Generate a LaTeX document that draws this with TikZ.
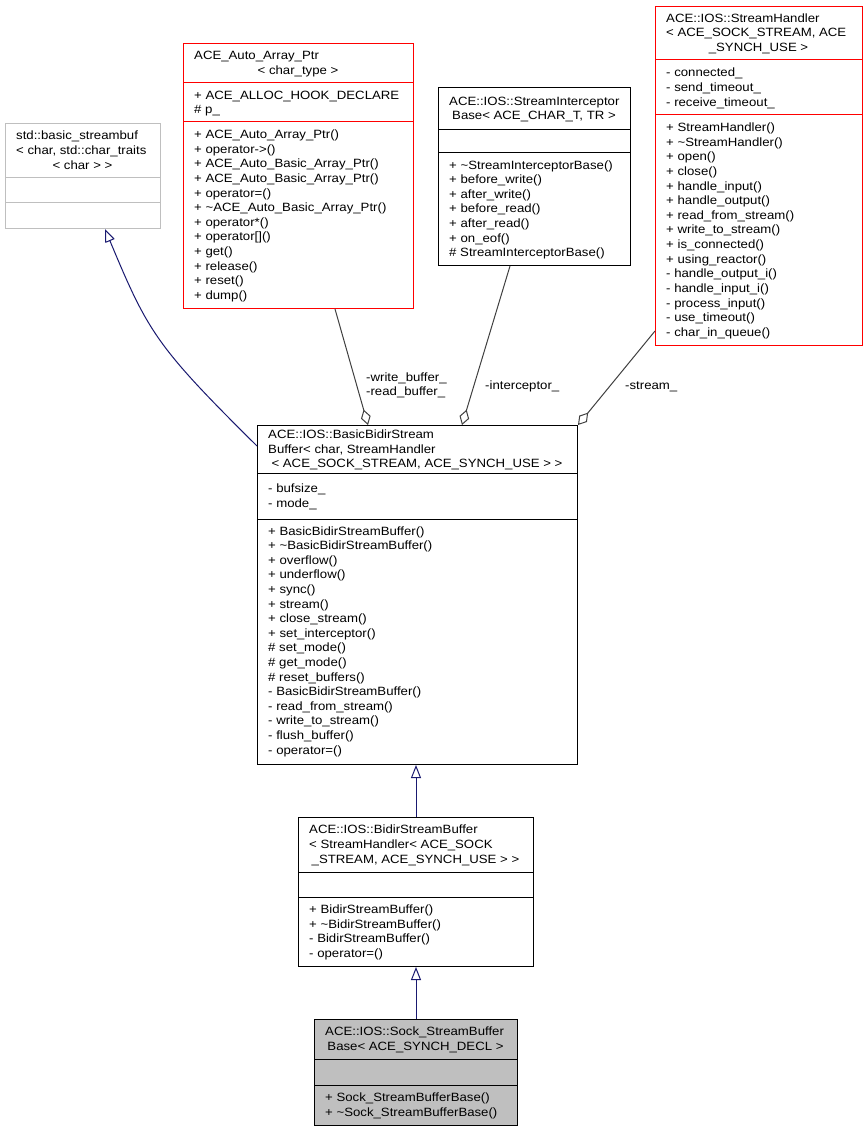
\documentclass[tikz,border=0pt]{standalone}
\usepackage{fontspec}
\setmainfont{Liberation Sans}[FakeStretch=1.1]
\usetikzlibrary{arrows.meta,calc}
\definecolor{edgeblue}{HTML}{191970}
\definecolor{agggray}{HTML}{404040}
\definecolor{boxred}{HTML}{FF0000}
\definecolor{boxgray}{HTML}{BFBFBF}
\definecolor{sockfill}{HTML}{BFBFBF}
\newcommand{\mlines}[4]{\foreach \lbl [count=\i] in {#4} {\node[txt, anchor=base west] (#1-\i) at (#2, {#3+(\i-1)*14.6+4}) {\lbl};}}
\begin{document}
\begin{tikzpicture}[x=1pt,y=-1pt,
  box/.style={draw, line width=1pt, inner sep=0pt, anchor=north west},
  txt/.style={inner sep=0pt, font=\fontsize{12}{14.6}\selectfont},
  inh/.style={draw=edgeblue, line width=1pt, arrows={-Triangle[open,length=13pt,width=10pt]}},
  agg/.style={draw=agggray, line width=1pt, arrows={Diamond[open,length=16pt,width=10pt]-}},
  sepl/.style={line width=1pt}]
\fill[white] (0,0) rectangle (867,1131);
\useasboundingbox (0,0) rectangle (867,1131);

% ---- boxes ----
\node[box, draw=boxgray, minimum width=155pt, minimum height=105pt] (basic) at (5,123) {};
\node[box, draw=boxred, minimum width=230pt, minimum height=265pt] (auto) at (183,43) {};
\node[box, draw=black, minimum width=192pt, minimum height=178pt] (interc) at (438,87) {};
\node[box, draw=boxred, minimum width=207pt, minimum height=339pt] (sh) at (655,6) {};
\node[box, draw=black, minimum width=320pt, minimum height=339pt] (bb) at (257,425) {};
\node[box, draw=black, minimum width=235pt, minimum height=149pt] (bidir) at (298,817) {};
\node[box, draw=black, fill=sockfill, minimum width=203pt, minimum height=106pt] (sock) at (314,1019) {};

% ---- separators ----
\draw[sepl, boxgray] (5,178) -- (160,178) (5,203) -- (160,203);
\draw[sepl, boxred] (183,83) -- (413,83) (183,122) -- (413,122);
\draw[sepl] (438,130) -- (630,130) (438,153) -- (630,153);
\draw[sepl, boxred] (655,60) -- (862,60) (655,115) -- (862,115);
\draw[sepl] (257,473) -- (577,473) (257,519) -- (577,519);
\draw[sepl] (298,872) -- (533,872) (298,897) -- (533,897);
\draw[sepl] (314,1059) -- (517,1059) (314,1085) -- (517,1085);

% ---- texts ----
% std::basic_streambuf
\mlines{basic-t}{16}{136}{std::basic\_streambuf, {< char, std::char\_traits}}
\node[txt, anchor=base] (basic-tc) at (82.5,169.2) {< char > >};

% ACE_Auto_Array_Ptr
\mlines{auto-t}{194}{55.7}{ACE\_Auto\_Array\_Ptr}
\node[txt, anchor=base] (auto-tc) at (298,74.3) {< char\_type >};
\mlines{auto-a}{194}{95.2}{+ ACE\_ALLOC\_HOOK\_DECLARE, \# p\_}
\mlines{auto-m}{194}{134.7}{+ ACE\_Auto\_Array\_Ptr(), + operator->(), + ACE\_Auto\_Basic\_Array\_Ptr(), + ACE\_Auto\_Basic\_Array\_Ptr(), + operator=(), + \textasciitilde ACE\_Auto\_Basic\_Array\_Ptr(), + operator*(), {+ operator[]()}, + get(), + release(), + reset(), + dump()}

% StreamInterceptorBase
\mlines{interc-t}{449}{101.2}{ACE::IOS::StreamInterceptor}
\node[txt, anchor=base] (interc-tc) at (534,119.8) {Base< ACE\_CHAR\_T, TR >};
\mlines{interc-m}{449}{165.2}{+ \textasciitilde StreamInterceptorBase(), + before\_write(), + after\_write(), + before\_read(), + after\_read(), + on\_eof(), \# StreamInterceptorBase()}

% StreamHandler
\mlines{sh-t}{666}{18.4}{ACE::IOS::StreamHandler, {< ACE\_SOCK\_STREAM, ACE}}
\node[txt, anchor=base] (sh-tc) at (758.5,51.6) {\_SYNCH\_USE >};
\mlines{sh-a}{666}{72.9}{- connected\_, - send\_timeout\_, - receive\_timeout\_}
\mlines{sh-m}{666}{127.8}{+ StreamHandler(), + \textasciitilde StreamHandler(), + open(), + close(), + handle\_input(), + handle\_output(), + read\_from\_stream(), + write\_to\_stream(), + is\_connected(), + using\_reactor(), - handle\_output\_i(), - handle\_input\_i(), - process\_input(), - use\_timeout(), - char\_in\_queue()}

% BasicBidirStreamBuffer
\mlines{bb-t}{268}{434.4}{ACE::IOS::BasicBidirStream, {Buffer< char, StreamHandler}}
\node[txt, anchor=base] (bb-tc) at (417,467.6) {< ACE\_SOCK\_STREAM, ACE\_SYNCH\_USE > >};
\mlines{bb-a}{268}{488.7}{- bufsize\_, - mode\_}
\mlines{bb-m}{268}{531}{+ BasicBidirStreamBuffer(), + \textasciitilde BasicBidirStreamBuffer(), + overflow(), + underflow(), + sync(), + stream(), + close\_stream(), + set\_interceptor(), \# set\_mode(), \# get\_mode(), \# reset\_buffers(), - BasicBidirStreamBuffer(), - read\_from\_stream(), - write\_to\_stream(), - flush\_buffer(), - operator=()}

% BidirStreamBuffer
\mlines{bidir-t}{309}{829.9}{ACE::IOS::BidirStreamBuffer, < StreamHandler< ACE\_SOCK}
\node[txt, anchor=base] (bidir-tc) at (415.5,863.1) {\_STREAM, ACE\_SYNCH\_USE > >};
\mlines{bidir-m}{309}{909.6}{+ BidirStreamBuffer(), + \textasciitilde BidirStreamBuffer(), - BidirStreamBuffer(), - operator=()}

% Sock_StreamBufferBase
\mlines{sock-t}{325}{1031.7}{ACE::IOS::Sock\_StreamBuffer}
\node[txt, anchor=base] (sock-tc) at (415.5,1050.3) {Base< ACE\_SYNCH\_DECL >};
\mlines{sock-m}{325}{1097.7}{+ Sock\_StreamBufferBase(), + \textasciitilde Sock\_StreamBufferBase()}

% ---- connectors ----
\draw[inh] ($(bb.north west)+(0pt,-21pt)$) .. controls (156,346) and (148,332) .. ($(basic.south west)+(100pt,0pt)$);
\draw[inh] (bidir.north) -- (bidir.north |- bb.south);
\draw[inh] (sock.north) -- (sock.north |- bidir.south);

\draw[agg] ($(bb.north west)+(111pt,0pt)$) -- ($(auto.south west)+(152pt,0pt)$);
\draw[agg] ($(bb.north west)+(205pt,0pt)$) -- ($(interc.south west)+(72pt,0pt)$);
\draw[agg] (bb.north east) -- ($(sh.south west)+(0pt,15pt)$);

\node[txt, anchor=base west] (lbl-buf1) at (366,381) {-write\_buffer\_};
\node[txt, anchor=base west] (lbl-buf2) at (366,395.6) {-read\_buffer\_};
\node[txt, anchor=base west] (lbl-int) at (485,389) {-interceptor\_};
\node[txt, anchor=base west] (lbl-str) at (625,389) {-stream\_};
\end{tikzpicture}
\end{document}
